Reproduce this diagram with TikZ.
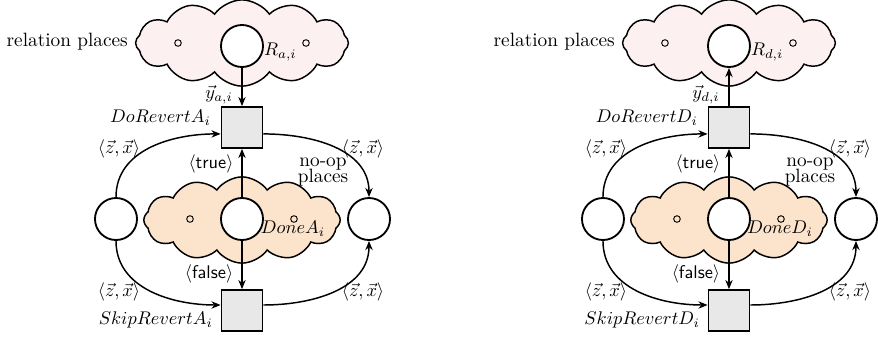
\documentclass[tikz,border=0pt]{standalone}
\usetikzlibrary{shapes.symbols,arrows.meta}
\definecolor{relfill}{HTML}{FDF0F0}
\definecolor{donefill}{HTML}{FCE3CB}
\definecolor{transfill}{HTML}{E8E8E8}
\tikzset{
  place/.style={circle,draw,line width=1pt,fill=white,minimum size=22.9pt,inner sep=0pt},
  trans/.style={rectangle,draw,line width=1pt,fill=transfill,minimum size=22.3pt,inner sep=0pt},
  dot/.style={circle,draw,line width=0.5pt,minimum size=3.6pt,inner sep=0pt},
  cloudbase/.style={cloud,draw,line width=0.8pt,cloud puffs=12,cloud puff arc=110,cloud ignores aspect,inner sep=0pt},
  relcloud/.style={cloudbase,fill=relfill,minimum width=116pt,minimum height=47pt},
  donecloud/.style={cloudbase,fill=donefill,minimum width=107pt,minimum height=47pt},
  arc/.style={-{Stealth[length=5pt,width=4pt]},line width=0.8pt},
  lbl/.style={inner sep=1pt},
  txt/.style={inner sep=1pt,font=\fontsize{10.5}{12}\selectfont}
}
\newcommand{\zx}{$\langle\vec{z},\vec{x}\rangle$}
\begin{document}
\begin{tikzpicture}[x=0.545pt,y=-0.545pt]
\useasboundingbox (0,0) rectangle (878,337);

% ---- net for the attribute relation ----
\begin{scope}
  \node[relcloud] (acl) at (242,43) {};
  \node[dot] at (178,43) {};
  \node[dot] at (306,43) {};
  \node[place] (aR) at (242,46) {};
  \node[txt,anchor=east] at (130,42) {relation places};
  \node[lbl,anchor=west] at (262,52) {$R_{a,i}$};

  \node[trans] (aDo) at (242,127.5) {};
  \node[lbl,anchor=east] at (213,118) {$DoRevertA_i$};

  \node[donecloud] (adcl) at (242,220) {};
  \node[dot] at (190,219) {};
  \node[dot] at (294,219) {};
  \node[place] (aDone) at (242,219) {};
  \node[lbl] at (293,229) {$DoneA_i$};

  \node[place] (aL) at (116,219) {};
  \node[place] (aRt) at (369,219) {};

  \node[trans] (aSk) at (242,310.5) {};
  \node[lbl,anchor=east] at (215,320) {$SkipRevertA_i$};

  \node[lbl] at (219,95) {$\vec{y}_{a,i}$};
  \node[lbl] at (211,164) {$\langle\textsf{true}\rangle$};
  \node[lbl] at (209,274) {$\langle\textsf{false}\rangle$};
  \node[lbl] at (119,149) {\zx};
  \node[lbl] at (363,149) {\zx};
  \node[lbl] at (119,292) {\zx};
  \node[lbl] at (363,292) {\zx};
  \node[txt,align=center] at (323,172) {no-op\\[-3pt]places};

  \draw[arc] (aR) -- (aDo);
  \draw[arc] (aDone) -- (aDo);
  \draw[arc] (aDone) -- (aSk);
  \draw[arc] (aL.north) to[out=90,in=180] ([yshift=-3.5pt]aDo.west);
  \draw[arc] ([yshift=-3.5pt]aDo.east) to[out=0,in=90] (aRt.north);
  \draw[arc] (aL.south) to[out=-90,in=180] ([yshift=3pt]aSk.west);
  \draw[arc] ([yshift=3pt]aSk.east) to[out=0,in=-90] (aRt.south);
\end{scope}

% ---- net for the data relation ----
\begin{scope}[xshift=265.4pt]
  \node[relcloud] (dcl) at (242,43) {};
  \node[dot] at (178,43) {};
  \node[dot] at (306,43) {};
  \node[place] (dR) at (242,46) {};
  \node[txt,anchor=east] at (130,42) {relation places};
  \node[lbl,anchor=west] at (262,52) {$R_{d,i}$};

  \node[trans] (dDo) at (242,127.5) {};
  \node[lbl,anchor=east] at (213,118) {$DoRevertD_i$};

  \node[donecloud] (ddcl) at (242,220) {};
  \node[dot] at (190,219) {};
  \node[dot] at (294,219) {};
  \node[place] (dDone) at (242,219) {};
  \node[lbl] at (293,229) {$DoneD_i$};

  \node[place] (dL) at (116,219) {};
  \node[place] (dRt) at (369,219) {};

  \node[trans] (dSk) at (242,310.5) {};
  \node[lbl,anchor=east] at (215,320) {$SkipRevertD_i$};

  \node[lbl] at (219,95) {$\vec{y}_{d,i}$};
  \node[lbl] at (211,164) {$\langle\textsf{true}\rangle$};
  \node[lbl] at (209,274) {$\langle\textsf{false}\rangle$};
  \node[lbl] at (119,149) {\zx};
  \node[lbl] at (363,149) {\zx};
  \node[lbl] at (119,292) {\zx};
  \node[lbl] at (363,292) {\zx};
  \node[txt,align=center] at (323,172) {no-op\\[-3pt]places};

  \draw[arc] (dDo) -- (dR);
  \draw[arc] (dDone) -- (dDo);
  \draw[arc] (dDone) -- (dSk);
  \draw[arc] (dL.north) to[out=90,in=180] ([yshift=-3.5pt]dDo.west);
  \draw[arc] ([yshift=-3.5pt]dDo.east) to[out=0,in=90] (dRt.north);
  \draw[arc] (dL.south) to[out=-90,in=180] ([yshift=3pt]dSk.west);
  \draw[arc] ([yshift=3pt]dSk.east) to[out=0,in=-90] (dRt.south);
\end{scope}
\end{tikzpicture}
\end{document}
